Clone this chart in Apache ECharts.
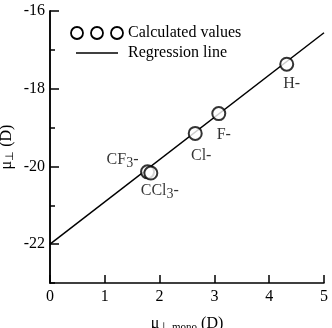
<!DOCTYPE html>
<html>
<head>
<meta charset="utf-8">
<script src="https://cdn.jsdelivr.net/npm/echarts@6/dist/echarts.min.js"></script>
<style>
  html, body { margin: 0; padding: 0; background: #fff; }
  #chart { width: 332px; height: 328px; }
</style>
</head>
<body>
<div id="chart"></div>
<script>
// Dipole component vs. monomer dipole, with regression fit

const groupNames = ['H-', 'F-', 'Cl-', 'CF3-', 'CCl3-'];
const muMono = [4.32, 3.08, 2.65, 1.78, 1.84];
const muPerp = [-17.37, -18.64, -19.15, -20.14, -20.17];

const fitX = [0, 5];
const fitY = [-22.0, -16.56];

const yMajorTicks = [-22, -20, -18, -16];

const serif = '"Liberation Serif", "Times New Roman", serif';

// label placement per group (offset from point centre)
const labelOffsets = {
  'H-': [5, 20],
  'F-': [5, 21],
  'Cl-': [6, 22],
  'CF3-': [-25, -12],
  'CCl3-': [9, 18]
};

function richName(n) {
  const m = n.match(/^(.*?)(3)(-)$/);
  if (m) return `{a|${m[1]}}{s|3}{a|-}`;
  return `{a|${n}}`;
}

const labelRich = {
  a: { fontFamily: serif, fontSize: 16, color: '#000' },
  s: { fontFamily: serif, fontSize: 14, color: '#000', padding: [6, 0, 0, 0] }
};

const chart = echarts.init(document.getElementById('chart'));

const pointData = muMono.map((x, i) => ({
  value: [x, muPerp[i]],
  label: {
    show: true,
    position: 'inside',
    color: '#000',
    offset: labelOffsets[groupNames[i]],
    formatter: richName(groupNames[i]),
    rich: labelRich
  }
}));

const axisCommon = {
  axisLine: { show: true, onZero: false, lineStyle: { color: '#000', width: 1.5 } },
  splitLine: { show: false }
};

const nameRich = {
  m: { fontFamily: serif, fontSize: 16, color: '#000' },
  s: { fontFamily: serif, fontSize: 11, color: '#000', padding: [8, 0, 0, 0] }
};

chart.setOption({
  animation: false,
  grid: { left: 50, right: 8, top: 11, bottom: 45, containLabel: false, outerBoundsMode: 'none' },
  xAxis: {
    type: 'value',
    min: 0, max: 5, interval: 1,
    ...axisCommon,
    axisTick: { show: true, inside: true, length: 8, lineStyle: { color: '#000', width: 1.5 } },
    axisLabel: { color: '#000', fontFamily: serif, fontSize: 16, margin: 6 },
    name: '{m|μ}{s|⊥ mono}{m| (D)}',
    nameLocation: 'middle',
    nameGap: 31,
    nameTextStyle: { rich: nameRich }
  },
  yAxis: [
    {
      type: 'value',
      min: -23, max: -16, interval: 1,
      ...axisCommon,
      axisTick: { show: true, inside: true, length: 5, lineStyle: { color: '#000', width: 1.5 } },
      axisLabel: { show: false },
      name: '{m|μ}{s|⊥}{m| (D)}',
      nameLocation: 'middle',
      nameGap: 34,
      nameTextStyle: { rich: nameRich }
    },
    {
      type: 'value',
      min: -23, max: -16,
      position: 'left',
      ...axisCommon,
      axisTick: { show: true, inside: true, length: 9, customValues: yMajorTicks, lineStyle: { color: '#000', width: 1.5 } },
      axisLabel: { color: '#000', fontFamily: serif, fontSize: 16, margin: 5, customValues: yMajorTicks }
    }
  ],
  series: [
    {
      type: 'line',
      data: fitX.map((x, i) => [x, fitY[i]]),
      showSymbol: false,
      lineStyle: { color: '#000', width: 1.5 },
      z: 2
    },
    {
      type: 'scatter',
      data: pointData,
      symbol: 'emptyCircle',
      symbolSize: 13,
      itemStyle: { color: '#000', borderColor: '#000', borderWidth: 1.8 },
      z: 3
    }
  ],
  graphic: [
    { type: 'circle', shape: { cx: 77, cy: 33, r: 6 }, style: { fill: '#fff', stroke: '#000', lineWidth: 1.8 } },
    { type: 'circle', shape: { cx: 97, cy: 33, r: 6 }, style: { fill: '#fff', stroke: '#000', lineWidth: 1.8 } },
    { type: 'circle', shape: { cx: 117, cy: 33, r: 6 }, style: { fill: '#fff', stroke: '#000', lineWidth: 1.8 } },
    { type: 'text', left: 128, top: 25, style: { text: 'Calculated values', font: '16px ' + serif, fill: '#000' } },
    { type: 'line', shape: { x1: 76, y1: 53, x2: 118, y2: 53 }, style: { stroke: '#000', lineWidth: 1.5 } },
    { type: 'text', left: 128, top: 45, style: { text: 'Regression line', font: '16px ' + serif, fill: '#000' } }
  ]
});
</script>
</body>
</html>
